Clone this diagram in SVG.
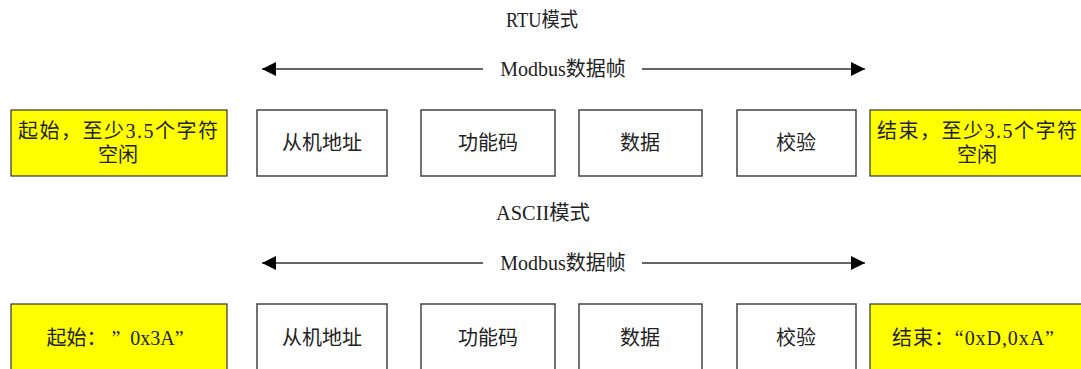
<svg xmlns="http://www.w3.org/2000/svg" width="1081" height="369" viewBox="0 0 1081 369">
<defs>
<style>
text{font-family:"Liberation Serif","Noto Sans CJK SC",serif;font-size:20px;fill:#222;text-anchor:middle}
.box{fill:#fff;stroke:#444;stroke-width:1.5}
.ybox{fill:#ffff00;stroke:#333;stroke-width:1.2}
.line{stroke:#333;stroke-width:1.3;fill:none}
</style>
<marker id="ah" viewBox="0 0 14 14" refX="14" refY="7" markerWidth="14" markerHeight="14" markerUnits="userSpaceOnUse" orient="auto-start-reverse">
<path d="M0,0 L14,7 L0,14 Z" fill="#000"/>
</marker>
</defs>
<rect width="1081" height="369" fill="#fff"/>

<text x="542" y="27" textLength="72" lengthAdjust="spacingAndGlyphs">RTU模式</text>
<text x="543" y="220" textLength="94" lengthAdjust="spacingAndGlyphs">ASCII模式</text>

<g id="connectors">
<line class="line" x1="262" y1="69" x2="483" y2="69" marker-start="url(#ah)"/>
<line class="line" x1="642" y1="69" x2="865" y2="69" marker-end="url(#ah)"/>
<text x="563" y="76">Modbus数据帧</text>
<line class="line" x1="262" y1="263" x2="483" y2="263" marker-start="url(#ah)"/>
<line class="line" x1="642" y1="263" x2="865" y2="263" marker-end="url(#ah)"/>
<text x="563" y="270">Modbus数据帧</text>
</g>

<g id="rtu-start"><rect class="ybox" x="11" y="110" width="216" height="66"/><text x="118" y="138" textLength="200">起始，至少3.5个字符</text><text x="118" y="162">空闲</text></g>
<g id="rtu-addr"><rect class="box" x="257" y="110" width="130" height="66"/><text x="322" y="150">从机地址</text></g>
<g id="rtu-func"><rect class="box" x="421" y="110" width="134" height="66"/><text x="488" y="150">功能码</text></g>
<g id="rtu-data"><rect class="box" x="579" y="110" width="123" height="66"/><text x="640" y="150">数据</text></g>
<g id="rtu-check"><rect class="box" x="737" y="110" width="119" height="66"/><text x="796" y="150">校验</text></g>
<g id="rtu-end"><rect class="ybox" x="870" y="110" width="216" height="66"/><text x="977" y="138" textLength="200">结束，至少3.5个字符</text><text x="977" y="162">空闲</text></g>

<g id="ascii-start"><rect class="ybox" x="11" y="304" width="216" height="70"/><text x="115" y="345" xml:space="preserve">起始： ”  0x3A”</text></g>
<g id="ascii-addr"><rect class="box" x="257" y="304" width="130" height="70"/><text x="322" y="345">从机地址</text></g>
<g id="ascii-func"><rect class="box" x="421" y="304" width="134" height="70"/><text x="488" y="345">功能码</text></g>
<g id="ascii-data"><rect class="box" x="579" y="304" width="123" height="70"/><text x="640" y="345">数据</text></g>
<g id="ascii-check"><rect class="box" x="737" y="304" width="119" height="70"/><text x="796" y="345">校验</text></g>
<g id="ascii-end"><rect class="ybox" x="870" y="304" width="216" height="70"/><text x="973" y="345" textLength="162">结束：“0xD,0xA”</text></g>
</svg>
